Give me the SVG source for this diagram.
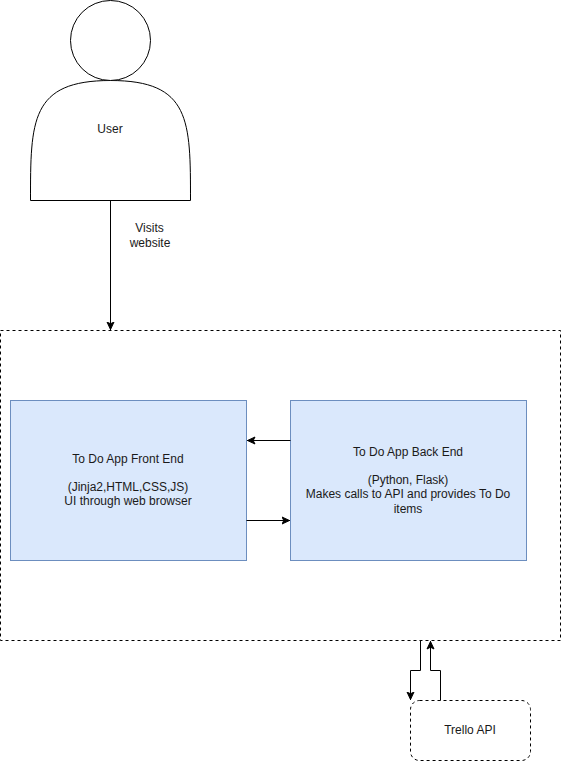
<svg xmlns="http://www.w3.org/2000/svg" width="561" height="761" viewBox="0 0 561 761">
<defs>
<style>
text{font-family:"Liberation Sans",Arial,Helvetica,sans-serif;font-size:12px;fill:#1a1a1a;text-anchor:middle}
.s{fill:#fff;stroke:#000;stroke-width:1}
.d{fill:#fff;stroke:#000;stroke-width:1;stroke-dasharray:3 3}
.b{fill:#dae8fc;stroke:#6c8ebf;stroke-width:1}
.c{fill:none;stroke:#000;stroke-width:1;marker-end:url(#a)}
</style>
<marker id="a" markerUnits="userSpaceOnUse" viewBox="0 0 9 9" refX="8.500" refY="4.500" markerWidth="9" markerHeight="9" orient="auto"><path d="M0.500 1L8 4.500L0.500 8L2.300 4.500Z" fill="#000" stroke="#000" stroke-width="1"/></marker>
</defs>
<rect width="561" height="761" fill="#fff"/>
<g id="container"><rect class="d" x="0.500" y="330.500" width="560" height="310"/></g>
<g id="user">
<path class="s" d="M30.500 200.500C30.500 120.500 30.500 80.500 110.500 80.500C190.500 80.500 190.500 120.500 190.500 200.500Z"/>
<circle class="s" cx="110.500" cy="40.500" r="40"/>
<text x="110" y="132.500">User</text>
</g>
<g id="front-end"><rect class="b" x="10.500" y="400.500" width="236" height="160"/>
<text x="128" y="463">To Do App Front End</text>
<text x="128" y="491">(Jinja2,HTML,CSS,JS)</text>
<text x="128" y="505">UI through web browser</text></g>
<g id="back-end"><rect class="b" x="290.500" y="400.500" width="236" height="160"/>
<text x="408" y="456">To Do App Back End</text>
<text x="408" y="484">(Python, Flask)</text>
<text x="408" y="498">Makes calls to API and provides To Do</text>
<text x="408" y="513">items</text></g>
<g id="trello"><rect class="d" x="410.500" y="700.500" width="120" height="60" rx="9" ry="9"/>
<text x="470" y="734">Trello API</text></g>
<g id="connectors">
<path class="c" d="M110.500 200.500V330"/>
<path class="c" d="M290.500 440.500H247"/>
<path class="c" d="M246.500 520.500H290"/>
<path class="c" d="M420.500 640.500V670.500H410.500V700"/>
<path class="c" d="M440.500 700.500V670.500H430.500V641"/>
<g id="visits-label"><text x="149.500" y="232">Visits</text><text x="150" y="247">website</text></g>
</g>
</svg>
